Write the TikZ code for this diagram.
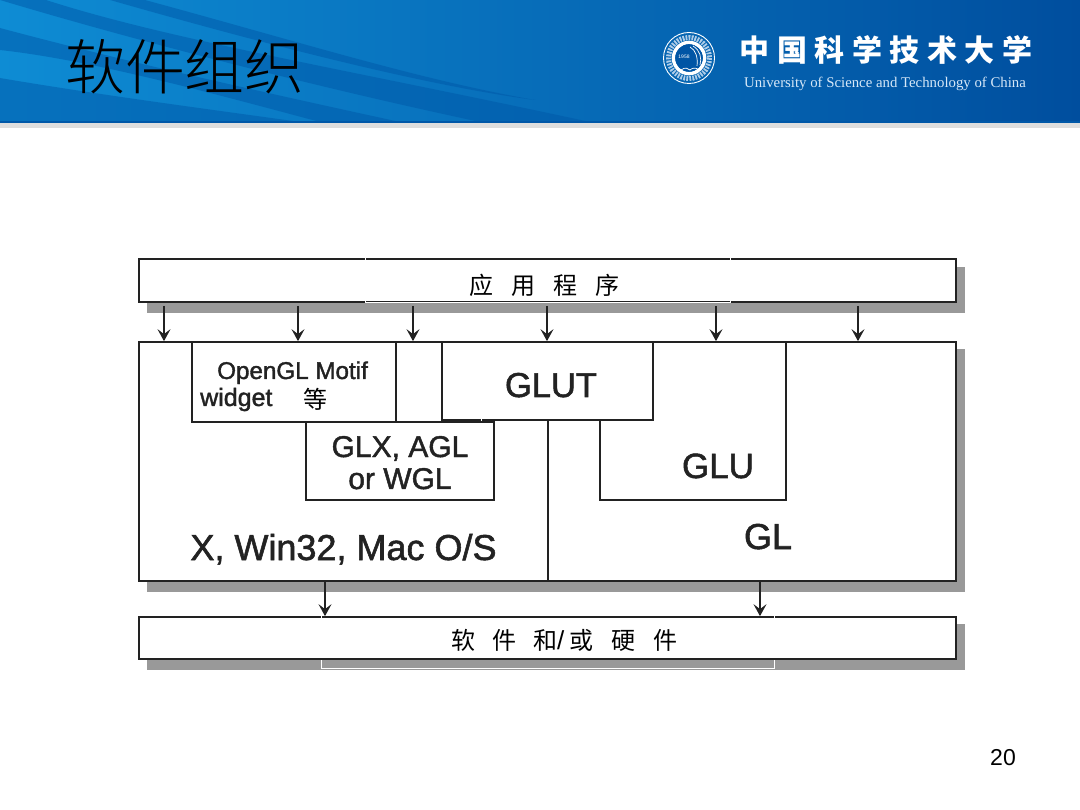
\documentclass[tikz,border=0pt]{standalone}
\usepackage{fontspec}
\usetikzlibrary{arrows.meta}
\setmainfont{Liberation Sans}
\newfontfamily\cjk{Noto Sans CJK SC}
\newfontfamily\cjkl{Noto Sans CJK SC Light}
\newfontfamily\lbl[FakeBold=1.5]{Liberation Sans}
\newfontfamily\uni{Liberation Serif}
\newcommand{\fs}[1]{\fontsize{#1}{#1}\selectfont}
\definecolor{shadowgray}{HTML}{999999}
\definecolor{ink}{HTML}{222222}
\definecolor{bandblue}{HTML}{0058A8}
\definecolor{headl}{RGB}{14,140,212}
\definecolor{headr}{RGB}{0,78,158}
\definecolor{ringtxt}{RGB}{175,205,232}
\definecolor{sealin}{RGB}{0,85,165}
\definecolor{enametxt}{RGB}{215,232,248}
\tikzset{
  x=1pt,y=-1pt,
  blk/.style={draw=ink,line width=1.7pt,fill=white,rectangle,inner sep=0pt},
  lab/.style={text=ink,inner sep=0pt},
  flow/.style={draw=ink,line width=1.4pt,-{Stealth[length=12pt,width=13pt,inset=5pt]},shorten <=3pt},
  band/.style={fill=bandblue,opacity=.5,draw=none},
  gap/.style={draw=white,line width=1pt},
}
\begin{document}
\begin{tikzpicture}
\useasboundingbox (0,0) rectangle (1080,810);
\fill[white] (0,0) rectangle (1080,810);
% header
\shade[left color=headl, right color=headr] (0,0) rectangle (1080,122);
\fill[band] (110,0) -- (145,0) .. controls (300,42) and (420,80) .. (535,100) .. controls (420,85) and (250,40) .. cycle;
\fill[band] (0,0) -- (46,0) .. controls (170,40) and (350,70) .. (590,122) -- (480,122) .. controls (330,90) and (150,45) .. cycle;
\fill[band] (0,28) .. controls (120,60) and (230,85) .. (400,122) -- (320,122) .. controls (200,90) and (90,60) .. (0,50) -- cycle;
\fill[band] (0,78) .. controls (100,95) and (200,108) .. (300,122) -- (0,122) -- cycle;
\fill[bandblue] (0,121.5) rectangle (1080,123.5);
\fill[black!13] (0,123.5) rectangle (1080,128);
\node[inner sep=0pt,text=black,font=\cjkl\fs{60}] (title) at (185,67) {软件组织};
% logo
\coordinate (seal) at (689,58);
\draw[white,line width=.9pt] (seal) circle (25.5);
\draw[ringtxt,line width=5pt,dash pattern=on 1.8pt off 1.2pt] (seal) circle (20.5);
\draw[white,line width=3.6pt] (seal) circle (15.5);
\fill[sealin] (seal) circle (13.8);
\node[text=white,inner sep=0pt,font=\fs{5}] (year) at (684,57) {1958};
\draw[white,line width=.7pt] (681,70) .. controls (685,67) and (688,68) .. (690,70) .. controls (692,68) and (696,67) .. (699,70);
\draw[white,line width=.7pt] (690,47) .. controls (696,50) and (698,58) .. (697,66);
\draw[white,line width=.7pt] (693,46) .. controls (700,50) and (702,58) .. (700,65);
\node[text=white,inner sep=0pt,font=\cjk\bfseries\fs{30}] (cname) at (886,50) {中\hspace{7.5pt}国\hspace{7.5pt}科\hspace{7.5pt}学\hspace{7.5pt}技\hspace{7.5pt}术\hspace{7.5pt}大\hspace{7.5pt}学};
\node[text=enametxt,inner sep=0pt,font=\uni\fs{14.8}] (ename) at (885,84) {University of Science and Technology of China};
% shadows
\fill[shadowgray] (147,267) rectangle (965,313);
\fill[shadowgray] (147,349) rectangle (965,592);
\fill[shadowgray] (147,624) rectangle (965,670);
% boxes
\node[blk,minimum width=817pt,minimum height=43pt] (app) at (547.5,280.5) {};
\node[blk,minimum width=817pt,minimum height=239pt] (sys) at (547.5,461.5) {};
\node[blk,minimum width=817pt,minimum height=42pt] (hw) at (547.5,638) {};
\node[blk,minimum width=188pt,minimum height=78pt] (glx) at (400,461) {};
\node[blk,minimum width=186pt,minimum height=158pt] (glu) at (693,421) {};
\node[blk,minimum width=204pt,minimum height=80pt] (motif) at (294,382) {};
\node[blk,minimum width=211pt,minimum height=78pt] (glut) at (547.5,381) {};
\draw[draw=ink,line width=2pt] (glut.south) -- (glut.south |- sys.south);
% arrows
\foreach \n/\x in {a/164,b/298,c/413,d/547,e/716,f/858}{
  \coordinate (t\n) at (\x,342);
  \draw[flow] (app.south -| t\n) -- (sys.north -| t\n);
}
\foreach \n/\x in {g/325,h/760}{
  \coordinate (t\n) at (\x,581);
  \draw[flow,shorten <=0pt] (sys.south -| t\n) -- (hw.north -| t\n);
}
% labels
\node[text=black,inner sep=0pt,font=\cjk\fs{24}] (lapp) at (544,285) {应\hspace{18pt}用\hspace{18pt}程\hspace{18pt}序};
\node[text=black,inner sep=0pt,font=\cjk\fs{24},anchor=west] (lhw) at (451,640) {软\hspace{17pt}件\hspace{17pt}和{\fontspec{Liberation Sans}\fs{26}/}\hspace{5pt}或\hspace{18pt}硬\hspace{18pt}件};
\node[lab,font=\lbl\fs{24.2},anchor=base west] (lm1) at (217,379) {OpenGL Motif};
\node[lab,font=\lbl\fs{25},anchor=base west] (lm2) at (200,406) {widget};
\node[text=black,inner sep=0pt,font=\cjk\fs{24}] (lm3) at (315,399) {等};
\node[lab,font=\lbl\fs{30},anchor=base] (lg1) at (400,457) {GLX, AGL};
\node[lab,font=\lbl\fs{30},anchor=base] (lg2) at (400,489) {or WGL};
\node[lab,font=\lbl\fs{34.5},anchor=base] (lglut) at (551,397) {GLUT};
\node[lab,font=\lbl\fs{35},anchor=base] (lglu) at (718,478) {GLU};
\node[lab,font=\lbl\fs{36},anchor=base] (lx) at (343.5,560) {X, Win32, Mac O/S};
\node[lab,font=\lbl\fs{36},anchor=base] (lgl) at (768,549) {GL};
\node[text=black,inner sep=0pt,font=\fs{23},anchor=base] (page) at (1003,765) {20};
% scan artefacts
\draw[gap] (365,257.5) -- (365,260.5);
\draw[gap] (730,257.5) -- (730,260.5);
\draw[gap] (365,299) -- (365,303) -- (730,303) -- (730,299);
\draw[gap] (321,660) -- (321,668) -- (774,668) -- (774,660);
\draw[gap] (321,615.5) -- (321,618.5);
\draw[gap] (774,615.5) -- (774,618.5);
\draw[gap] (481,419) -- (481,421.5);
\end{tikzpicture}
\end{document}
